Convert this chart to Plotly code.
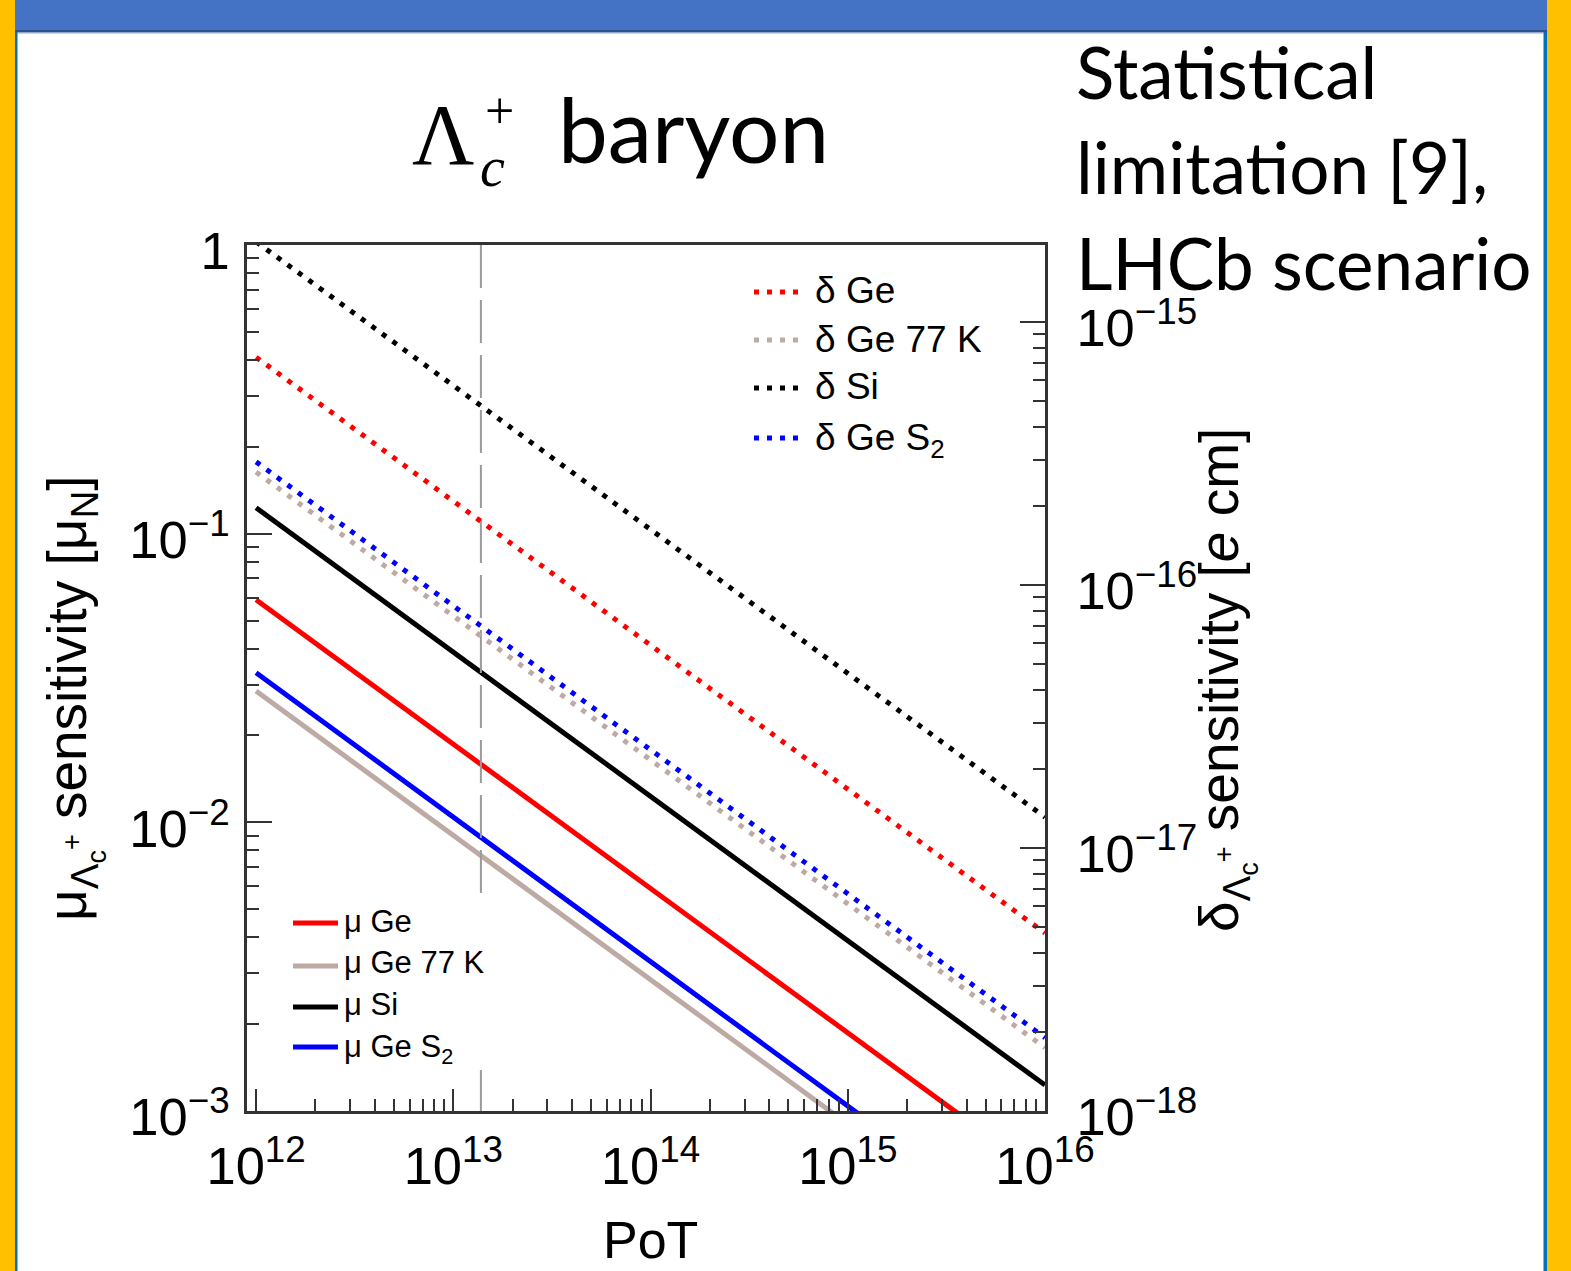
import plotly.graph_objects as go

# ---------------- data ----------------
pot = [1e12, 1e13, 1e14, 1e15, 1e16]

mu_ge = [0.059, 0.0187, 0.0059, 0.00187, 0.00059]
mu_ge77 = [0.0285, 0.0090, 0.00285, 0.00090, 0.000285]
mu_si = [0.123, 0.039, 0.0123, 0.0039, 0.00123]
mu_ges2 = [0.033, 0.0104, 0.0033, 0.00104, 0.00033]

delta_ge = [7.35e-16, 2.08e-16, 5.91e-17, 1.68e-17, 4.75e-18]
delta_ge77 = [2.69e-16, 7.62e-17, 2.16e-17, 6.12e-18, 1.74e-18]
delta_si = [2.02e-15, 5.74e-16, 1.63e-16, 4.61e-17, 1.31e-17]
delta_ges2 = [2.94e-16, 8.32e-17, 2.36e-17, 6.68e-18, 1.90e-18]

lhcb_pot = 1.38e13

delta_labels = ["δ Ge", "δ Ge 77 K", "δ Si", "δ Ge S<sub>2</sub>"]
mu_labels = ["μ Ge", "μ Ge 77 K", "μ Si", "μ Ge S<sub>2</sub>"]

# ---------------- styling ----------------
W, H = 1571, 1271
RED, TAN, BLACK, BLUE = "#FF0000", "#BDAAA4", "#000000", "#0000FF"
SANS = "Liberation Sans"
DOT = "5px,8px"


def fx(p):
    return p / W


def fy(p):
    return 1 - p / H


fig = go.Figure()

# dotted delta curves (right axis)
for name, vals, col in [("δ Ge 77 K", delta_ge77, TAN), ("δ Ge S2", delta_ges2, BLUE),
                        ("δ Ge", delta_ge, RED), ("δ Si", delta_si, BLACK)]:
    fig.add_trace(go.Scatter(x=pot, y=vals, mode="lines", name=name, yaxis="y2",
                             line=dict(color=col, width=5, dash=DOT), showlegend=False))

# solid mu curves (left axis)
for name, vals, col in [("μ Ge 77 K", mu_ge77, TAN), ("μ Ge", mu_ge, RED),
                        ("μ Si", mu_si, BLACK), ("μ Ge S2", mu_ges2, BLUE)]:
    fig.add_trace(go.Scatter(x=pot, y=vals, mode="lines", name=name, yaxis="y",
                             line=dict(color=col, width=5), showlegend=False))

# LHCb scenario vertical dashed line
fig.add_trace(go.Scatter(x=[lhcb_pot, lhcb_pot], y=[1, 1e-3], mode="lines", yaxis="y",
                         line=dict(color="#9A9A9A", width=2, dash="43px,12px"),
                         showlegend=False, hoverinfo="skip"))

shapes = [
    # slide decorations
    dict(type="rect", xref="paper", yref="paper", x0=fx(0), x1=fx(15), y0=fy(H), y1=fy(0),
         fillcolor="#FFC000", line_width=0, layer="below"),
    dict(type="rect", xref="paper", yref="paper", x0=fx(15), x1=fx(17.5), y0=fy(H), y1=fy(0),
         fillcolor="#0070C0", line_width=0, layer="below"),
    dict(type="rect", xref="paper", yref="paper", x0=fx(1547), x1=fx(W), y0=fy(H), y1=fy(0),
         fillcolor="#FFC000", line_width=0, layer="below"),
    dict(type="rect", xref="paper", yref="paper", x0=fx(1543.5), x1=fx(1547), y0=fy(H), y1=fy(0),
         fillcolor="#0070C0", line_width=0, layer="below"),
    dict(type="rect", xref="paper", yref="paper", x0=fx(15), x1=fx(1547), y0=fy(30), y1=fy(0),
         fillcolor="#4472C4", line_width=0, layer="below"),
    dict(type="rect", xref="paper", yref="paper", x0=fx(15), x1=fx(1547), y0=fy(32.5), y1=fy(30),
         fillcolor="#2F528F", line_width=0, layer="below"),
    dict(type="rect", xref="paper", yref="paper", x0=fx(17.5), x1=fx(1543.5), y0=fy(33.5), y1=fy(32.5),
         fillcolor="#8FAADC", line_width=0, layer="below"),
    # white legend box for mu legend (hides dashed line)
    dict(type="rect", xref="paper", yref="paper", x0=fx(282), x1=fx(512), y0=fy(1068), y1=fy(894),
         fillcolor="white", line_width=0, layer="above"),
]

annotations = []

# delta legend
d_cols = [RED, TAN, BLACK, BLUE]
d_sample_y = [292, 340, 388, 438]
d_text_y = [290, 339, 387, 440]
for lab, col, sy, ty in zip(delta_labels, d_cols, d_sample_y, d_text_y):
    shapes.append(dict(type="line", xref="paper", yref="paper", x0=fx(754), x1=fx(803),
                       y0=fy(sy), y1=fy(sy), line=dict(color=col, width=5, dash=DOT), layer="above"))
    annotations.append(dict(text=lab, xref="paper", yref="paper", x=fx(813), y=fy(ty),
                            xanchor="left", yanchor="middle", showarrow=False,
                            font=dict(family=SANS, size=37, color="black")))

# mu legend
m_cols = [RED, TAN, BLACK, BLUE]
m_sample_y = [923, 966, 1007, 1047]
m_text_y = [921, 962, 1004, 1049]
for lab, col, sy, ty in zip(mu_labels, m_cols, m_sample_y, m_text_y):
    shapes.append(dict(type="line", xref="paper", yref="paper", x0=fx(293), x1=fx(338),
                       y0=fy(sy), y1=fy(sy), line=dict(color=col, width=5), layer="above"))
    annotations.append(dict(text=lab, xref="paper", yref="paper", x=fx(342), y=fy(ty),
                            xanchor="left", yanchor="middle", showarrow=False,
                            font=dict(family=SANS, size=31, color="black")))

# title  Λc+ baryon
annotations += [
    dict(text="Λ", xref="paper", yref="paper", x=fx(443), y=fy(135), xanchor="center",
         yanchor="middle", showarrow=False, font=dict(family="Liberation Serif", size=86, color="black")),
    dict(text="<i>c</i>", xref="paper", yref="paper", x=fx(492), y=fy(167), xanchor="center",
         yanchor="middle", showarrow=False, font=dict(family="Liberation Serif", size=56, color="black")),
    dict(text="+", xref="paper", yref="paper", x=fx(500), y=fy(110), xanchor="center",
         yanchor="middle", showarrow=False, font=dict(family="Liberation Serif", size=52, color="black")),
    dict(text="baryon", xref="paper", yref="paper", x=fx(556), y=fy(128), xanchor="left",
         yanchor="middle", showarrow=False, font=dict(family="Lato", size=89, color="black")),
]

# side note
for txt, base in [("Statistical", 100), ("limitation [9],", 195), ("LHCb scenario", 290)]:
    annotations.append(dict(text=txt, xref="paper", yref="paper", x=fx(1074), y=fy(base - 28),
                            xanchor="left", yanchor="middle", showarrow=False,
                            font=dict(family="Lato", size=71, color="black")))

# axis titles
annotations += [
    dict(text="PoT", xref="paper", yref="paper", x=fx(650), y=fy(1240), xanchor="center",
         yanchor="middle", showarrow=False, font=dict(family=SANS, size=52, color="black")),
    dict(text="μ<sub>Λ<sub>c</sub><sup>+</sup></sub> sensitivity [μ<sub>N</sub>]",
         xref="paper", yref="paper", x=fx(74), y=fy(698), xanchor="center", yanchor="middle",
         textangle=-90, showarrow=False, font=dict(family=SANS, size=55, color="black")),
    dict(text="δ<sub>Λ<sub>c</sub><sup>+</sup></sub> sensitivity [<i>e</i> cm]",
         xref="paper", yref="paper", x=fx(1226), y=fy(680), xanchor="center", yanchor="middle",
         textangle=-90, showarrow=False, font=dict(family=SANS, size=55, color="black")),
]

AX = "#333333"
tickfont = dict(family=SANS, size=42, color="black")
minor = dict(ticks="inside", ticklen=12, tickwidth=2, tickcolor=AX, dtick="D1", showgrid=False)

fig.update_layout(
    width=W, height=H, autosize=False,
    margin=dict(l=0, r=0, t=0, b=0, pad=0, autoexpand=False),
    paper_bgcolor="white", plot_bgcolor="white",
    showlegend=False,
    shapes=shapes, annotations=annotations,
    xaxis=dict(type="log", range=[11.954, 16.0], domain=[fx(247), fx(1045)],
               showline=True, linecolor=AX, linewidth=3, mirror=True,
               ticks="inside", ticklen=22, tickwidth=2, tickcolor=AX, dtick=1,
               exponentformat="power", showgrid=False, zeroline=False,
               tickfont=tickfont, ticklabelstandoff=9, minor=minor),
    yaxis=dict(type="log", range=[-3, 0], domain=[fy(1111), fy(245)],
               showline=True, linecolor=AX, linewidth=3, mirror=True,
               ticks="inside", ticklen=25, tickwidth=2, tickcolor=AX, dtick=1,
               exponentformat="power", showgrid=False, zeroline=False,
               tickfont=tickfont, ticklabelstandoff=6, ticklabelshift=6, minor=minor),
    yaxis2=dict(type="log", range=[-18, -14.707], overlaying="y", side="right", anchor="x",
                showline=True, linecolor=AX, linewidth=3,
                ticks="inside", ticklen=25, tickwidth=2, tickcolor=AX, dtick=1,
                exponentformat="power", showgrid=False, zeroline=False,
                tickfont=tickfont, ticklabelstandoff=20, ticklabelshift=6, minor=minor),
)

fig.write_html("out.html", config={"displayModeBar": False},
               post_script="document.body.style.margin='0px';")
